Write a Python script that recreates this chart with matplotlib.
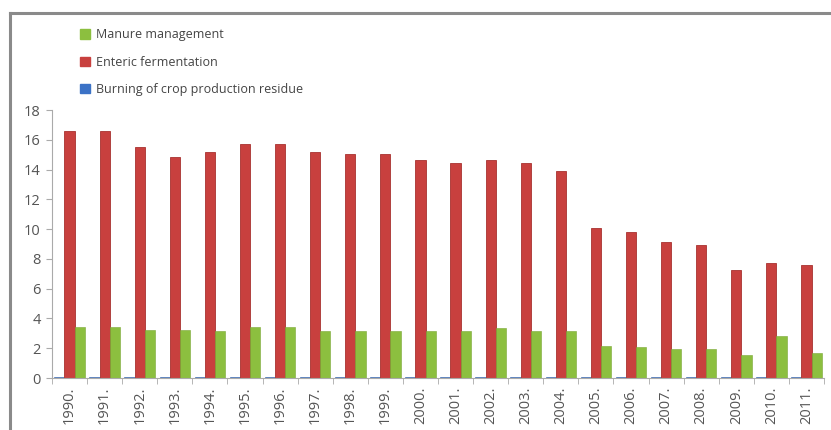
import matplotlib
matplotlib.use("Agg")
import matplotlib.pyplot as plt
from matplotlib.lines import Line2D
from matplotlib.patches import Patch
import numpy as np

years = ["1990.", "1991.", "1992.", "1993.", "1994.", "1995.", "1996.", "1997.",
         "1998.", "1999.", "2000.", "2001.", "2002.", "2003.", "2004.", "2005.",
         "2006.", "2007.", "2008.", "2009.", "2010.", "2011."]
enteric = [16.6, 16.6, 15.5, 14.87, 15.17, 15.72, 15.72, 15.17, 15.03, 15.03, 14.65,
           14.43, 14.65, 14.43, 13.91, 10.07, 9.8, 9.15, 8.95, 7.27, 7.7, 7.6]
manure = [3.42, 3.42, 3.24, 3.2, 3.19, 3.42, 3.42, 3.19, 3.19, 3.19, 3.19,
          3.19, 3.35, 3.19, 3.17, 2.17, 2.08, 1.95, 1.95, 1.54, 2.79, 1.68]
burning = [0.06] * 22
yticks = [0, 2, 4, 6, 8, 10, 12, 14, 16, 18]

c_green = "#8cbf3f"
c_red = "#c8403e"
c_blue = "#3b72c6"
txt = "#555555"

W, H = 831, 430
fig = plt.figure(figsize=(W / 100, H / 100), dpi=100)
fig.patch.set_facecolor("white")

# frame lines (top & left)
fig.add_artist(Line2D([10 / W, 10 / W], [0, 1 - 13 / H], color="#8a8a8a", lw=2.2,
                      transform=fig.transFigure))
fig.add_artist(Line2D([10 / W, 1], [1 - 13 / H, 1 - 13 / H], color="#8a8a8a", lw=2.2,
                      transform=fig.transFigure))

ax = fig.add_axes([52 / W, (H - 378) / H, (824 - 52) / W, (378 - 110) / H])
x = np.arange(len(years))
bw = 0.29
ax.bar(x - bw, burning, bw, color=c_blue, edgecolor="#2f5fa8", lw=0.4)
ax.bar(x, enteric, bw, color=c_red, edgecolor="#a83230", lw=0.6)
ax.bar(x + bw, manure, bw, color=c_green, edgecolor="#7aa836", lw=0.4)

ax.set_xlim(-0.5, len(years) - 0.5)
ax.set_ylim(0, 18)
ax.set_yticks(yticks)
ax.set_yticklabels([str(v) for v in yticks], color=txt, fontsize=10.5, family="Open Sans")
ax.set_xticks(x)
ax.set_xticklabels(years, rotation=90, color=txt, fontsize=10.5, family="Open Sans")
ax.set_xticks(np.arange(len(years) + 1) - 0.5, minor=True)
ax.tick_params(axis="x", which="major", length=0, pad=6)
ax.tick_params(axis="x", which="minor", length=4, color="#aaaaaa", direction="out")
ax.tick_params(axis="y", length=4, color="#aaaaaa", direction="out", pad=4)
for s in ["top", "right"]:
    ax.spines[s].set_visible(False)
for s in ["left", "bottom"]:
    ax.spines[s].set_color("#aaaaaa")
    ax.spines[s].set_linewidth(0.8)

handles = [Patch(color=c_green), Patch(color=c_red), Patch(color=c_blue)]
labels = ["Manure management", "Enteric fermentation", "Burning of crop production residue"]
fig.legend(handles, labels, loc="upper left", bbox_to_anchor=(69 / W, 1 - 17 / H),
           frameon=False, labelcolor="#444444", handlelength=0.8,
           handleheight=0.8, handletextpad=0.45, labelspacing=1.15,
           prop={"family": "Open Sans", "size": 9})

fig.savefig("out.png", dpi=100)
